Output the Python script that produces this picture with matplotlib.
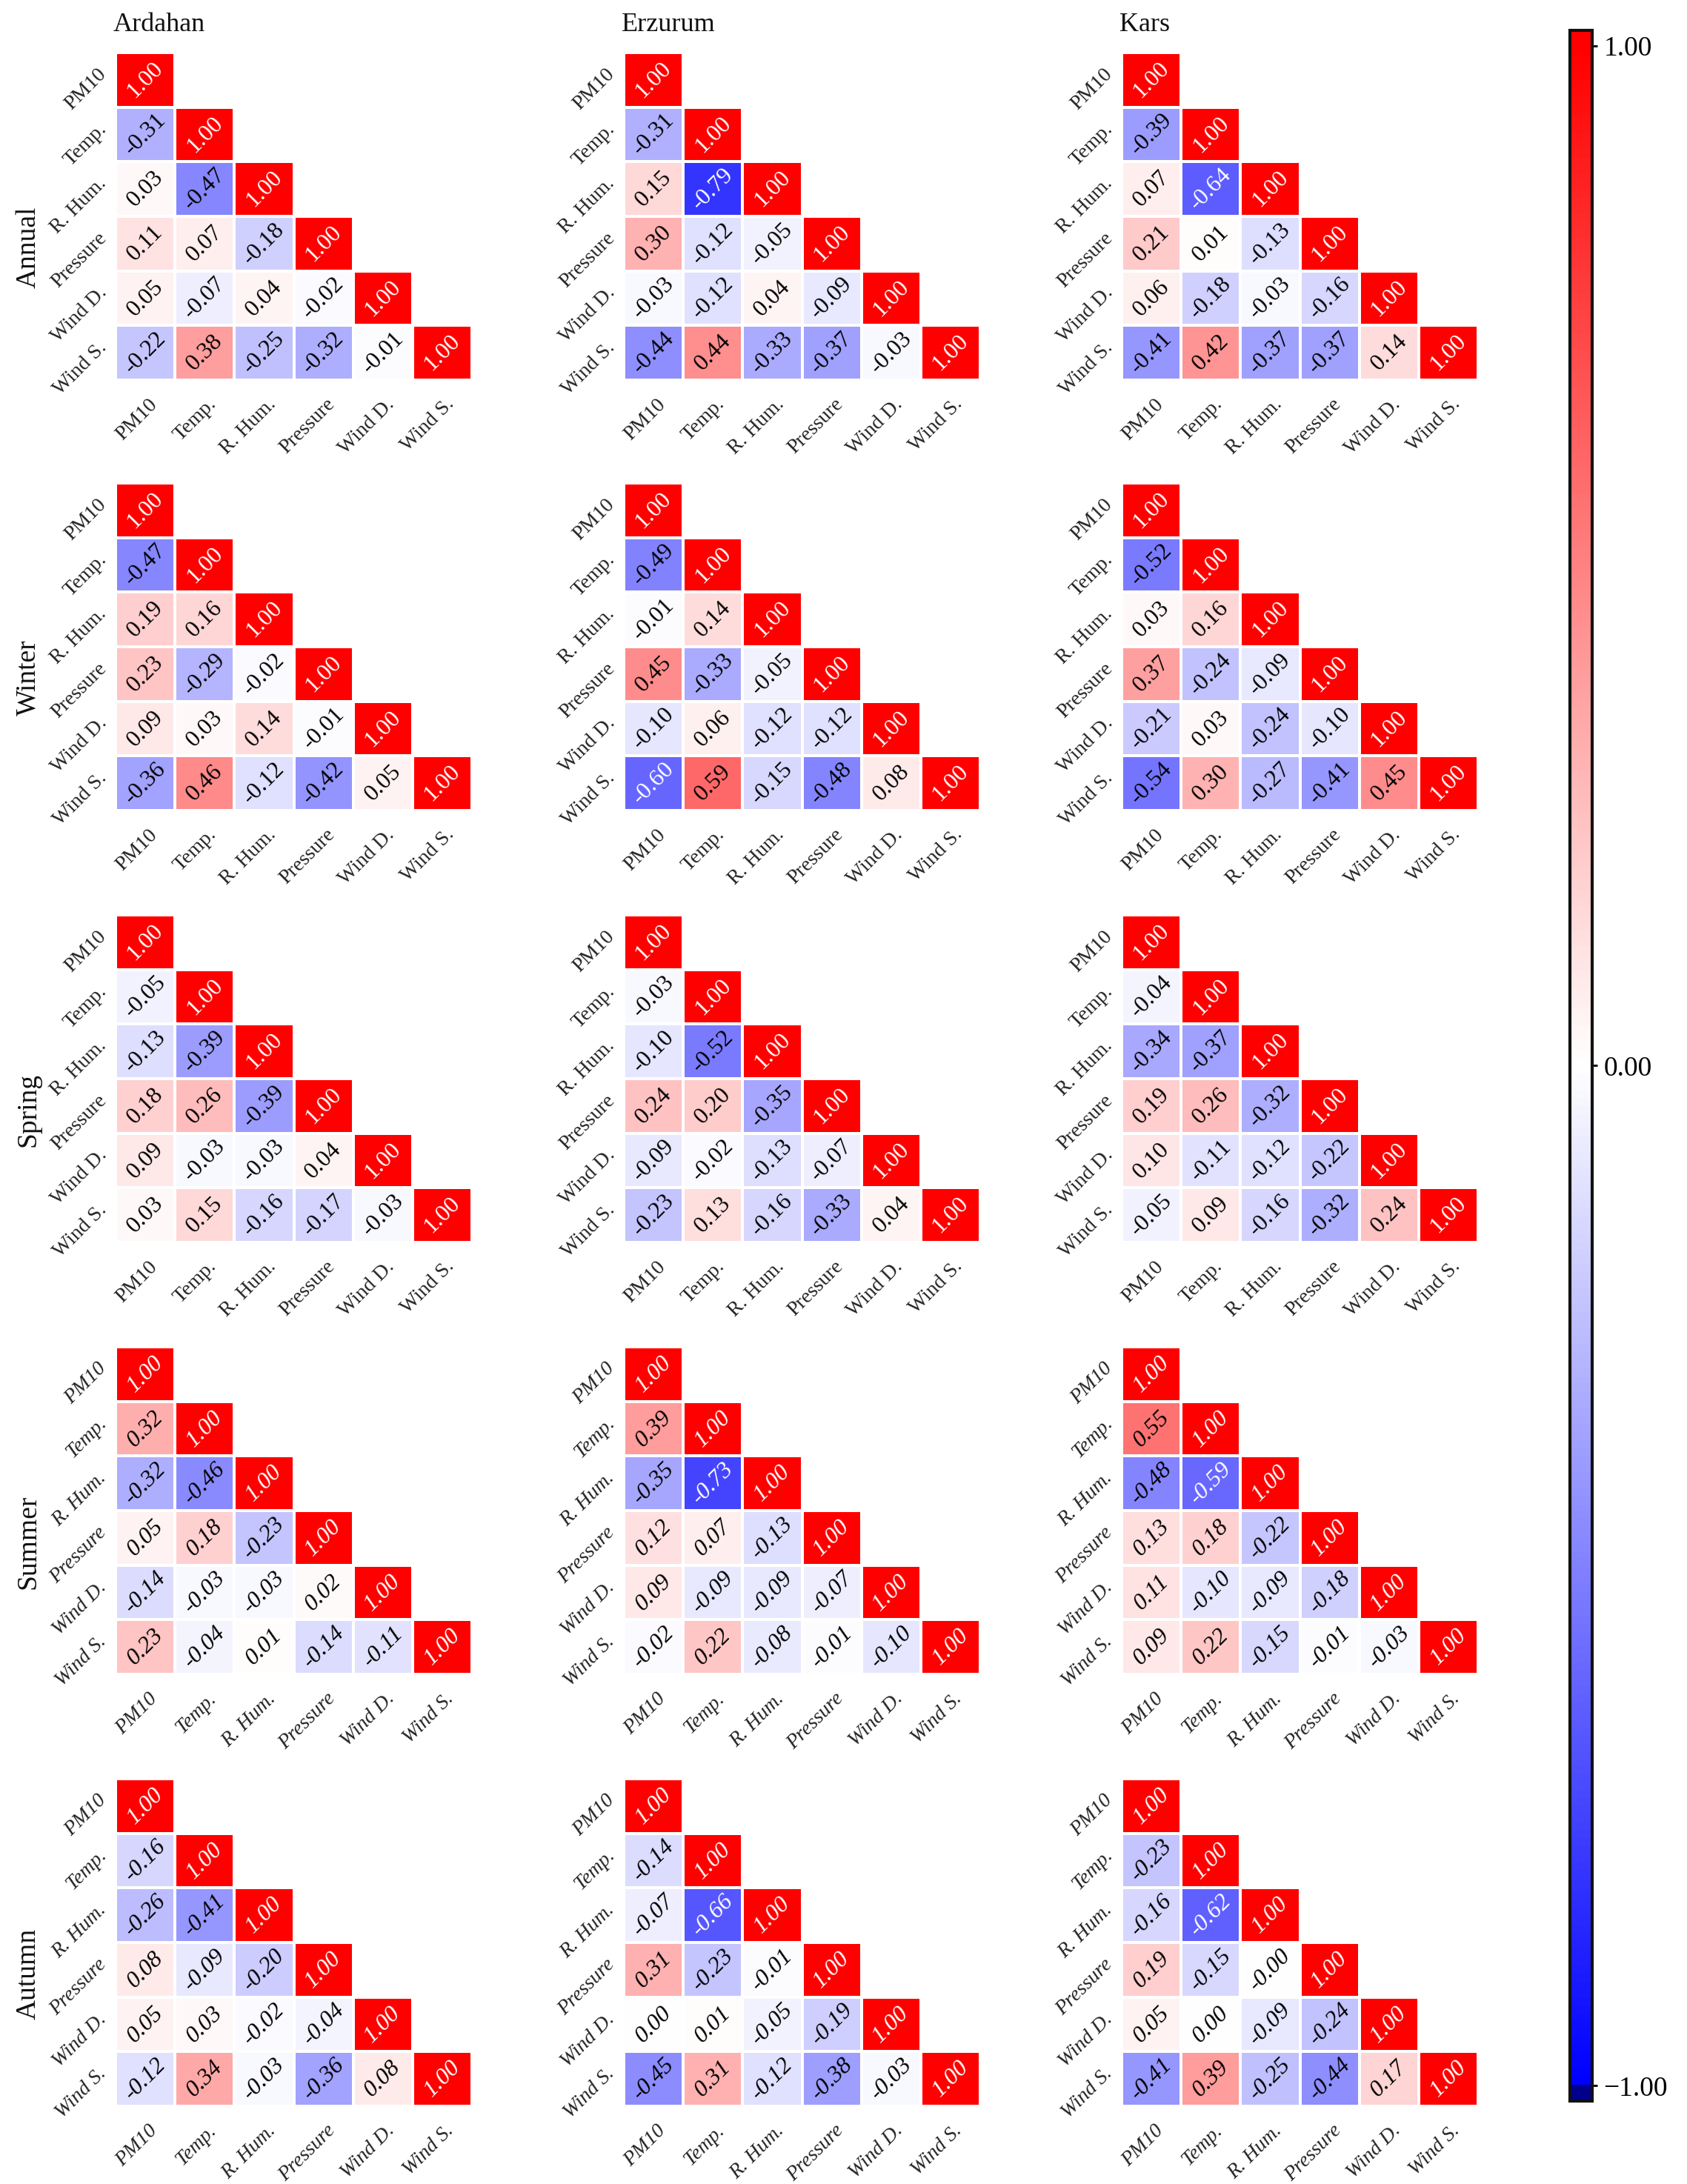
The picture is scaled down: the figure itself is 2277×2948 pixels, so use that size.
import numpy as np
import matplotlib
matplotlib.use("Agg")
import matplotlib.pyplot as plt
from matplotlib.colors import Normalize, ListedColormap
from matplotlib.cm import ScalarMappable
from matplotlib.transforms import ScaledTranslation
from matplotlib.ticker import FuncFormatter

plt.rcParams['font.family'] = ['Liberation Serif', 'DejaVu Serif']

variables = ["PM10", "Temp.", "R. Hum.", "Pressure", "Wind D.", "Wind S."]
cities = ["Ardahan", "Erzurum", "Kars"]
seasons = ["Annual", "Winter", "Spring", "Summer", "Autumn"]

# lower-triangle correlations (row i holds correlations with columns 0..i-1)
ardahan_annual = [[-0.31], [0.03, -0.47], [0.11, 0.07, -0.18],
                  [0.05, -0.07, 0.04, -0.02], [-0.22, 0.38, -0.25, -0.32, -0.01]]
erzurum_annual = [[-0.31], [0.15, -0.79], [0.30, -0.12, -0.05],
                  [-0.03, -0.12, 0.04, -0.09], [-0.44, 0.44, -0.33, -0.37, -0.03]]
kars_annual = [[-0.39], [0.07, -0.64], [0.21, 0.01, -0.13],
               [0.06, -0.18, -0.03, -0.16], [-0.41, 0.42, -0.37, -0.37, 0.14]]

ardahan_winter = [[-0.47], [0.19, 0.16], [0.23, -0.29, -0.02],
                  [0.09, 0.03, 0.14, -0.01], [-0.36, 0.46, -0.12, -0.42, 0.05]]
erzurum_winter = [[-0.49], [-0.01, 0.14], [0.45, -0.33, -0.05],
                  [-0.10, 0.06, -0.12, -0.12], [-0.60, 0.59, -0.15, -0.48, 0.08]]
kars_winter = [[-0.52], [0.03, 0.16], [0.37, -0.24, -0.09],
               [-0.21, 0.03, -0.24, -0.10], [-0.54, 0.30, -0.27, -0.41, 0.45]]

ardahan_spring = [[-0.05], [-0.13, -0.39], [0.18, 0.26, -0.39],
                  [0.09, -0.03, -0.03, 0.04], [0.03, 0.15, -0.16, -0.17, -0.03]]
erzurum_spring = [[-0.03], [-0.10, -0.52], [0.24, 0.20, -0.35],
                  [-0.09, -0.02, -0.13, -0.07], [-0.23, 0.13, -0.16, -0.33, 0.04]]
kars_spring = [[-0.04], [-0.34, -0.37], [0.19, 0.26, -0.32],
               [0.10, -0.11, -0.12, -0.22], [-0.05, 0.09, -0.16, -0.32, 0.24]]

ardahan_summer = [[0.32], [-0.32, -0.46], [0.05, 0.18, -0.23],
                  [-0.14, -0.03, -0.03, 0.02], [0.23, -0.04, 0.01, -0.14, -0.11]]
erzurum_summer = [[0.39], [-0.35, -0.73], [0.12, 0.07, -0.13],
                  [0.09, -0.09, -0.09, -0.07], [-0.02, 0.22, -0.08, -0.01, -0.10]]
kars_summer = [[0.55], [-0.48, -0.59], [0.13, 0.18, -0.22],
               [0.11, -0.10, -0.09, -0.18], [0.09, 0.22, -0.15, -0.01, -0.03]]

ardahan_autumn = [[-0.16], [-0.26, -0.41], [0.08, -0.09, -0.20],
                  [0.05, 0.03, -0.02, -0.04], [-0.12, 0.34, -0.03, -0.36, 0.08]]
erzurum_autumn = [[-0.14], [-0.07, -0.66], [0.31, -0.23, -0.01],
                  [0.00, 0.01, -0.05, -0.19], [-0.45, 0.31, -0.12, -0.38, -0.03]]
kars_autumn = [[-0.23], [-0.16, -0.62], [0.19, -0.15, -0.0],
               [0.05, 0.00, -0.09, -0.24], [-0.41, 0.39, -0.25, -0.44, 0.17]]

panels = [
    [ardahan_annual, erzurum_annual, kars_annual],
    [ardahan_winter, erzurum_winter, kars_winter],
    [ardahan_spring, erzurum_spring, kars_spring],
    [ardahan_summer, erzurum_summer, kars_summer],
    [ardahan_autumn, erzurum_autumn, kars_autumn],
]

W, H = 2277, 2948
DPI = 100
fig = plt.figure(figsize=(W / DPI, H / DPI), dpi=DPI)

col_left = [156, 842, 1514]
row_top = [71, 652, 1235, 1818, 2401]
pw, ph = 481, 442
n = len(variables)

def build_matrix(tri):
    m = np.full((n, n), np.nan)
    for i in range(n):
        m[i, i] = 1.0
    for i, row in enumerate(tri, start=1):
        for j, v in enumerate(row):
            m[i, j] = v
    return m

px = 1.0 / DPI * 72.0  # points per pixel
for r, season in enumerate(seasons):
    italic = season in ("Summer", "Autumn")
    style = 'italic' if italic else 'normal'
    for c, city in enumerate(cities):
        l, t = col_left[c], row_top[r]
        ax = fig.add_axes([l / W, 1 - (t + ph) / H, pw / W, ph / H])
        m = build_matrix(panels[r][c])
        data = np.ma.masked_invalid(m)
        ax.pcolormesh(np.arange(n + 1), np.arange(n + 1), data, cmap='bwr',
                      vmin=-1, vmax=1, edgecolors='white', linewidth=1.5)
        ax.set_xlim(0, n)
        ax.set_ylim(n, 0)
        for i in range(n):
            for j in range(i + 1):
                v = m[i, j]
                col = 'white' if (v < -0.56 or v > 0.9) else 'black'
                ax.text(j + 0.5, i + 0.5, f"{v:.2f}", rotation=45,
                        ha='center', va='center', rotation_mode='anchor',
                        fontsize=23, color=col, style=style)
        for s in ax.spines.values():
            s.set_visible(False)
        ax.set_xticks(np.arange(n) + 0.5)
        ax.set_yticks(np.arange(n) + 0.5)
        ax.set_xticklabels(variables, rotation=45, ha='right', va='center',
                           rotation_mode='anchor', fontsize=20, color='#222222',
                           style=style)
        ax.set_yticklabels(variables, rotation=45, ha='right', va='center',
                           rotation_mode='anchor', fontsize=20, color='#222222',
                           style=style)
        ax.tick_params(axis='x', length=0, pad=29 * px)
        ax.tick_params(axis='y', length=0, pad=16 * px)
        for lab in ax.get_xticklabels():
            lab.set_transform(lab.get_transform() +
                              ScaledTranslation(12 / DPI, 0, fig.dpi_scale_trans))
        for lab in ax.get_yticklabels():
            lab.set_transform(lab.get_transform() +
                              ScaledTranslation(0, 11 / DPI, fig.dpi_scale_trans))
        if r == 0:
            fig.text((l - 3) / W, 1 - 42 / H, city, ha='left', va='baseline',
                     fontsize=26, color='#111111')
        if c == 0:
            fig.text(38 / W, 1 - (t + ph / 2 + 42) / H, season, rotation=90,
                     ha='center', va='center', fontsize=27, color='#111111')

# colorbar
cb_lo, cb_hi = -1.015, 1.015
vals = np.linspace(cb_lo, cb_hi, 1024)
bwr = plt.get_cmap('bwr')
cols = bwr(np.clip((vals + 1) / 2, 0, 1))
cols[vals < -1] = (0.0, 0.0, 0.55, 1.0)
cb_cmap = ListedColormap(cols)
sm = ScalarMappable(norm=Normalize(cb_lo, cb_hi), cmap=cb_cmap)
cax = fig.add_axes([2119 / W, 1 - 2836 / H, 30 / W, (2836 - 41) / H])
cb = fig.colorbar(sm, cax=cax, ticks=[-1, 0, 1],
                  format=FuncFormatter(lambda x, p: f"{x:.2f}".replace('-', '\u2212')))
cb.outline.set_linewidth(3)
cb.outline.set_edgecolor('#111111')
cax.tick_params(labelsize=27, length=5, width=2, pad=6)

fig.savefig("out.png", dpi=DPI)
